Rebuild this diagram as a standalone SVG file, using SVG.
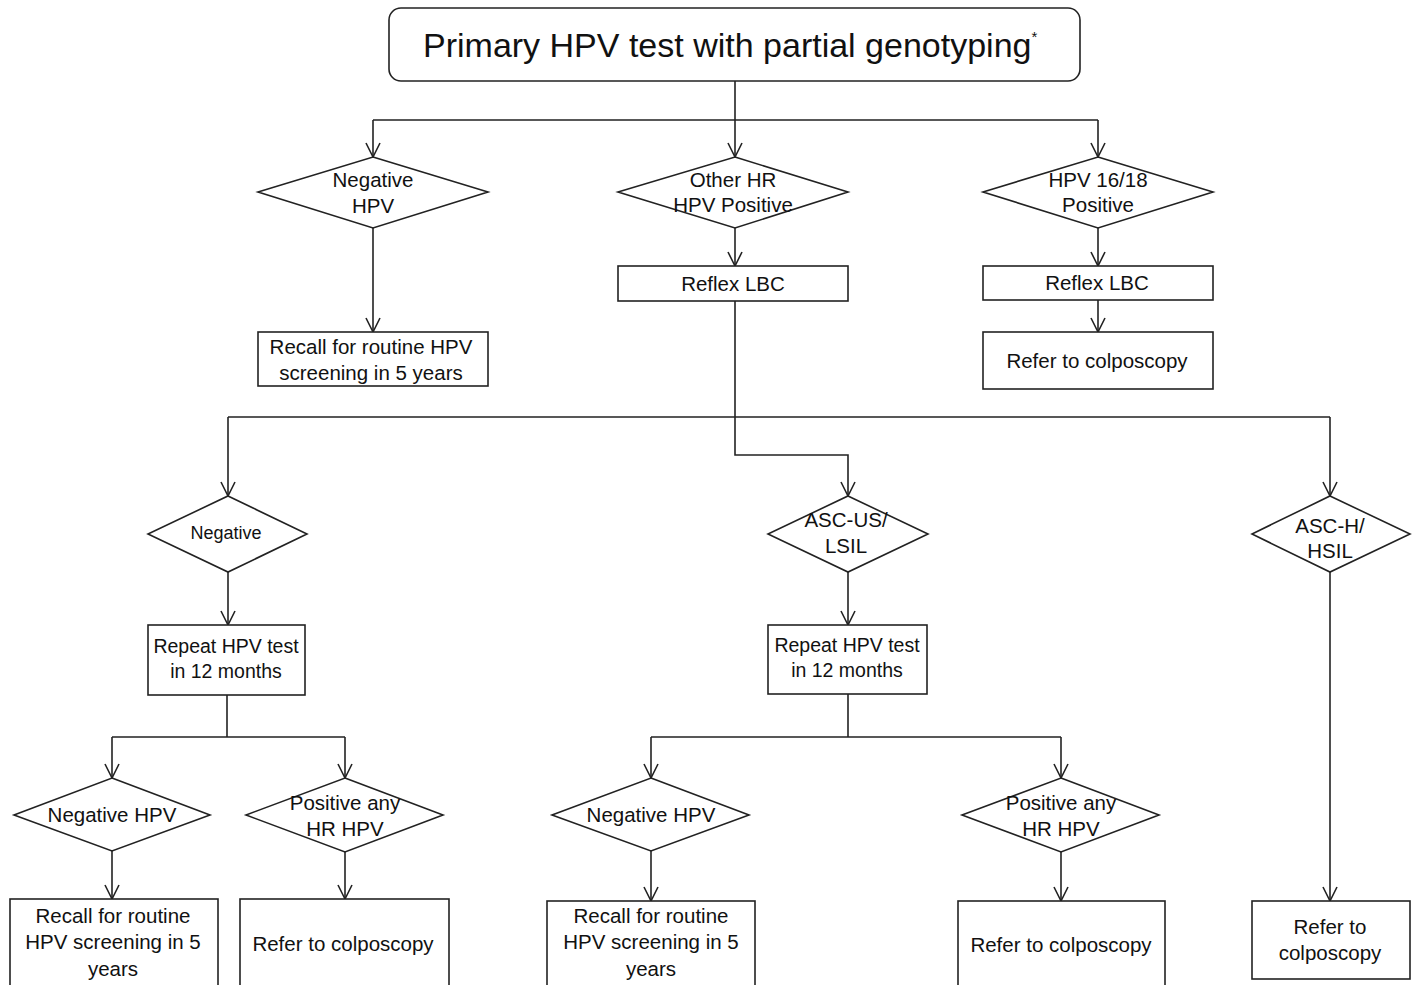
<svg xmlns="http://www.w3.org/2000/svg" width="1416" height="985" viewBox="0 0 1416 985">
<style>
.n{fill:#fff;stroke:#222;stroke-width:1.6}
.c{fill:none;stroke:#222;stroke-width:1.6}
text{font-family:"Liberation Sans",Arial,sans-serif;font-size:20.5px;fill:#111;text-anchor:middle}
.t{font-size:34px;text-anchor:start}
.s{font-size:18px}
.r{font-size:19.5px}
</style>
<defs>
<marker id="a" markerWidth="16" markerHeight="14" refX="15" refY="7" orient="auto" markerUnits="userSpaceOnUse" overflow="visible">
<path d="M1,0 L15,7 L1,14" fill="none" stroke="#222" stroke-width="1.6"/>
</marker>
</defs>
<rect width="1416" height="985" fill="#fff"/>
<g id="connectors">
<path class="c" d="M735,81 V120 M373,120 H1098"/>
<path class="c" d="M373,120 V157" marker-end="url(#a)"/>
<path class="c" d="M735,120 V157" marker-end="url(#a)"/>
<path class="c" d="M1098,120 V157" marker-end="url(#a)"/>
<path class="c" d="M373,228 V332" marker-end="url(#a)"/>
<path class="c" d="M735,228 V266" marker-end="url(#a)"/>
<path class="c" d="M1098,228 V266" marker-end="url(#a)"/>
<path class="c" d="M1098,300 V332" marker-end="url(#a)"/>
<path class="c" d="M735,301 V417 M228,417 H1330"/>
<path class="c" d="M228,417 V496" marker-end="url(#a)"/>
<path class="c" d="M1330,417 V496" marker-end="url(#a)"/>
<path class="c" d="M735,417 V455 H848 V496" marker-end="url(#a)"/>
<path class="c" d="M228,572 V625" marker-end="url(#a)"/>
<path class="c" d="M848,572 V625" marker-end="url(#a)"/>
<path class="c" d="M1330,572 V901" marker-end="url(#a)"/>
<path class="c" d="M227,695 V737 M112,737 H345"/>
<path class="c" d="M112,737 V778" marker-end="url(#a)"/>
<path class="c" d="M345,737 V778" marker-end="url(#a)"/>
<path class="c" d="M112,851 V899" marker-end="url(#a)"/>
<path class="c" d="M345,852 V899" marker-end="url(#a)"/>
<path class="c" d="M848,694 V737 M651,737 H1061"/>
<path class="c" d="M651,737 V778" marker-end="url(#a)"/>
<path class="c" d="M1061,737 V778" marker-end="url(#a)"/>
<path class="c" d="M651,851 V901" marker-end="url(#a)"/>
<path class="c" d="M1061,852 V901" marker-end="url(#a)"/>
</g>
<g id="start">
<rect class="n" x="389" y="8" width="691" height="73" rx="12"/>
<text class="t" x="423" y="57">Primary HPV test with partial genotyping<tspan dy="-15" style="font-size:15px">*</tspan></text>
</g>
<g id="neg1">
<polygon class="n" points="373,157 488,192 373,228 258,192"/>
<text x="373" y="187">Negative</text><text x="373" y="213">HPV</text>
</g>
<g id="other">
<polygon class="n" points="735,157 848,192 735,228 618,192"/>
<text x="733" y="187">Other HR</text><text x="733" y="212">HPV Positive</text>
</g>
<g id="hpv1618">
<polygon class="n" points="1098,157 1213,192 1098,228 983,192"/>
<text x="1098" y="187">HPV 16/18</text><text x="1098" y="212">Positive</text>
</g>
<g id="recall1">
<rect class="n" x="258" y="332" width="230" height="54"/>
<text x="371" y="354">Recall for  routine  HPV</text><text x="371" y="380">screening in 5 years</text>
</g>
<g id="reflex1">
<rect class="n" x="618" y="266" width="230" height="35"/>
<text x="733" y="291">Reflex LBC</text>
</g>
<g id="reflex2">
<rect class="n" x="983" y="266" width="230" height="34"/>
<text x="1097" y="290">Reflex LBC</text>
</g>
<g id="refer1">
<rect class="n" x="983" y="332" width="230" height="57"/>
<text x="1097" y="368">Refer to colposcopy</text>
</g>
<g id="negative">
<polygon class="n" points="228,496 307,534 228,572 148,534"/>
<text class="s" x="226" y="539">Negative</text>
</g>
<g id="ascus">
<polygon class="n" points="848,496 928,534 848,572 768,534"/>
<text x="846" y="527">ASC-US/</text><text x="846" y="553">LSIL</text>
</g>
<g id="asch">
<polygon class="n" points="1330,496 1410,534 1330,572 1252,534"/>
<text x="1330" y="533">ASC-H/</text><text x="1330" y="558">HSIL</text>
</g>
<g id="repeat1">
<rect class="n" x="148" y="625" width="157" height="70"/>
<text class="r" x="226" y="653">Repeat HPV test</text><text class="r" x="226" y="678">in 12  months</text>
</g>
<g id="repeat2">
<rect class="n" x="768" y="625" width="159" height="69"/>
<text class="r" x="847" y="652">Repeat HPV test</text><text class="r" x="847" y="677">in 12  months</text>
</g>
<g id="refer4">
<rect class="n" x="1252" y="901" width="158" height="78"/>
<text x="1330" y="934">Refer to</text><text x="1330" y="960">colposcopy</text>
</g>
<g id="neghpv1">
<polygon class="n" points="112,778 210,815 112,851 14,815"/>
<text x="112" y="822">Negative HPV</text>
</g>
<g id="pos1">
<polygon class="n" points="345,778 443,815 345,852 246,815"/>
<text x="345" y="810">Positive any</text><text x="345" y="836">HR HPV</text>
</g>
<g id="recall2">
<rect class="n" x="10" y="899" width="208" height="90"/>
<text x="113" y="923">Recall for routine</text><text x="113" y="949">HPV screening in 5</text><text x="113" y="976">years</text>
</g>
<g id="refer2">
<rect class="n" x="240" y="899" width="209" height="90"/>
<text x="343" y="951">Refer to colposcopy</text>
</g>
<g id="neghpv2">
<polygon class="n" points="651,778 749,815 651,851 552,815"/>
<text x="651" y="822">Negative HPV</text>
</g>
<g id="pos2">
<polygon class="n" points="1061,778 1159,815 1061,852 962,815"/>
<text x="1061" y="810">Positive any</text><text x="1061" y="836">HR HPV</text>
</g>
<g id="recall3">
<rect class="n" x="547" y="901" width="208" height="90"/>
<text x="651" y="923">Recall for routine</text><text x="651" y="949">HPV screening in 5</text><text x="651" y="976">years</text>
</g>
<g id="refer3">
<rect class="n" x="958" y="901" width="207" height="90"/>
<text x="1061" y="952">Refer to colposcopy</text>
</g>
</svg>
